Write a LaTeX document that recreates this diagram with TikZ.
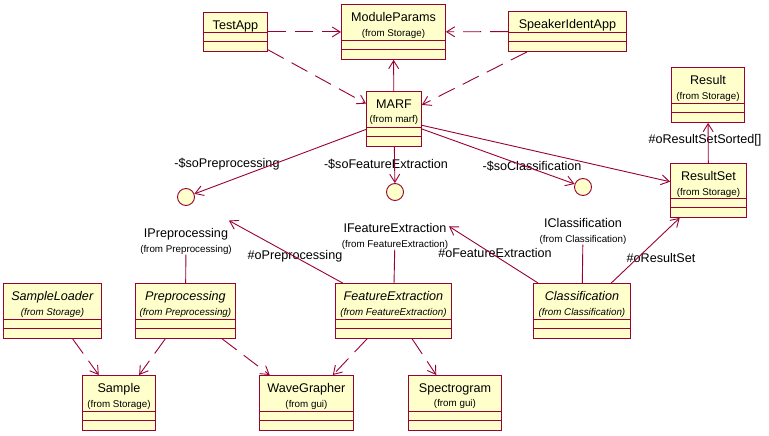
\documentclass[tikz,border=0pt]{standalone}
\usepackage{fontspec}
\setmainfont{Liberation Sans}
\usepackage{tikz}
\usetikzlibrary{arrows.meta,positioning,shapes}
\definecolor{umlred}{RGB}{153,0,51}
\definecolor{umlyellow}{RGB}{255,255,204}
\newcommand{\tfrom}[1]{{\fontsize{9.8}{10}\selectfont (from #1)}}
\newcommand{\tabs}[1]{\textit{#1}}

\begin{document}
\begin{tikzpicture}[x=1pt, y=-1pt, >={Straight Barb[length=8pt,width=10pt]}, line width=0.9pt, draw=umlred]
      \tikzstyle{every node}=[font=\fontsize{12.6}{14.5}\selectfont, inner sep=0pt]
      \tikzstyle{cls}=[draw=umlred, fill=umlyellow, anchor=north west]
      \tikzstyle{iface}=[circle, draw=umlred, fill=umlyellow, minimum size=17pt]
      \tikzstyle{depend}=[dash pattern=on 18pt off 9pt]
      \useasboundingbox (0,0) rectangle (769,436);
      %% classes
  \node (testapp) at (203,12) [cls, minimum width=64pt, minimum height=39pt] {};
  \node (modparams) at (341,4) [cls, minimum width=104pt, minimum height=55pt] {};
  \node (speaker) at (508,11) [cls, minimum width=118pt, minimum height=40pt] {};
  \node (marf) at (366,91) [cls, minimum width=55pt, minimum height=55pt] {};
  \node (result) at (671,67) [cls, minimum width=73pt, minimum height=55pt] {};
  \node (rset) at (670,163) [cls, minimum width=76pt, minimum height=54pt] {};
  \node (loader) at (3,283) [cls, minimum width=98pt, minimum height=55pt] {};
  \node (pre) at (135,283) [cls, minimum width=100pt, minimum height=55pt] {};
  \node (fex) at (335,283) [cls, minimum width=116pt, minimum height=55pt] {};
  \node (cls) at (533,283) [cls, minimum width=97pt, minimum height=55pt] {};
  \node (sample) at (82,375) [cls, minimum width=73pt, minimum height=55pt] {};
  \node (wave) at (259,375) [cls, minimum width=94pt, minimum height=55pt] {};
  \node (spectro) at (408,375) [cls, minimum width=93pt, minimum height=55pt] {};
  \foreach \c in {testapp,modparams,speaker,marf,result,rset,loader,pre,fex,cls,sample,wave,spectro}
    \draw ([yshift=19pt]\c.south west) -- ([yshift=19pt]\c.south east)
          ([yshift=10pt]\c.south west) -- ([yshift=10pt]\c.south east);
      %% class names
  \node (testapp_n) [below=8pt of testapp.north] {TestApp};
  \node (modparams_n) [below=8pt of modparams.north, align=center] {ModuleParams\\\tfrom{Storage}};
  \node (speaker_n) [below=8pt of speaker.north] {SpeakerIdentApp};
  \node (marf_n) [below=8pt of marf.north, align=center] {MARF\\\tfrom{marf}};
  \node (result_n) [below=8pt of result.north, align=center] {Result\\\tfrom{Storage}};
  \node (rset_n) [below=8pt of rset.north, align=center] {ResultSet\\\tfrom{Storage}};
  \node (loader_n) [below=8pt of loader.north, align=center] {\tabs{SampleLoader}\\\tabs{\tfrom{Storage}}};
  \node (pre_n) [below=8pt of pre.north, align=center] {\tabs{Preprocessing}\\\tabs{\tfrom{Preprocessing}}};
  \node (fex_n) [below=8pt of fex.north, align=center] {\tabs{FeatureExtraction}\\\tabs{\tfrom{FeatureExtraction}}};
  \node (cls_n) [below=8pt of cls.north, align=center] {\tabs{Classification}\\\tabs{\tfrom{Classification}}};
  \node (sample_n) [below=8pt of sample.north, align=center] {Sample\\\tfrom{Storage}};
  \node (wave_n) [below=8pt of wave.north, align=center] {WaveGrapher\\\tfrom{gui}};
  \node (spectro_n) [below=8pt of spectro.north, align=center] {Spectrogram\\\tfrom{gui}};
      %% interfaces
  \node (ipre) at (186,197) [iface] {};
  \node (ifex) at (395,192) [iface] {};
  \node (icls) at (583,187) [iface] {};
  \node (ipre_n) [below=22pt of ipre, align=center] {IPreprocessing\\\tfrom{Preprocessing}};
  \node (ifex_n) [below=22pt of ifex, align=center] {IFeatureExtraction\\\tfrom{FeatureExtraction}};
  \node (icls_n) [below=22pt of icls, align=center] {IClassification\\\tfrom{Classification}};
      %% role names
  \node (l_sopre) at (227,164) {-\$soPreprocessing};
  \node (l_sofex) at (386,164) {-\$soFeatureExtraction};
  \node (l_socls) at (532,166) {-\$soClassification};
  \node (l_opre) at (295,256) {\#oPreprocessing};
  \node (l_ofex) at (495,253) {\#oFeatureExtraction};
  \node (l_orset) at (661,258) {\#oResultSet};
  \node (l_osorted) at (705,140) {\#oResultSetSorted[]};
      %% connectors
  \draw [->, depend] (testapp) -- (modparams);
  \draw [->, depend] (speaker) -- (modparams);
  \draw [->, depend] (testapp) -- (marf);
  \draw [->, depend] (speaker) -- (marf);
  \draw [->] (marf) -- (modparams);
  \draw [->] (marf) -- (ipre);
  \draw [->] (marf) -- (ifex);
  \draw [->] (marf) -- (icls);
  \draw [->] (marf) -- (rset);
  \draw [->] (rset) -- (result);
  \draw (pre) -- (ipre_n);
  \draw (fex) -- (ifex_n);
  \draw (cls) -- (icls_n);
  \draw [->, shorten >=40pt] (fex) -- (ipre);
  \draw [->, shorten >=55pt] (cls) -- (ifex);
  \draw [->] (cls) -- (rset);
  \draw [->, depend] (loader) -- (sample);
  \draw [->, depend] (pre) -- (sample);
  \draw [->, depend] (pre) -- (wave);
  \draw [->, depend] (fex) -- (wave);
  \draw [->, depend] (fex) -- (spectro);
%
    \end{tikzpicture}
\end{document}
